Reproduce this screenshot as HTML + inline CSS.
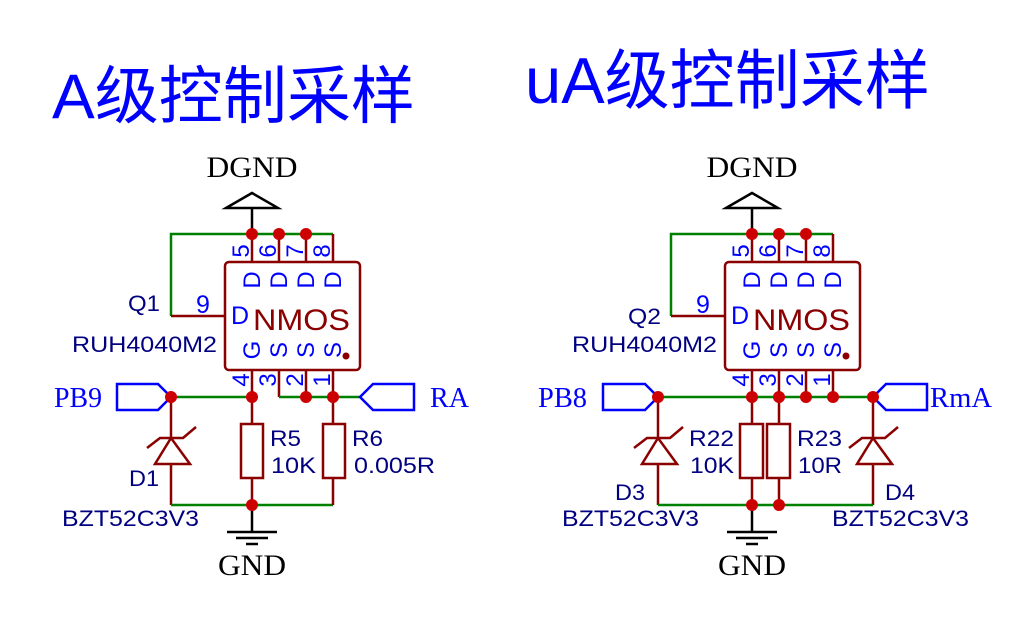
<!DOCTYPE html>
<html><head><meta charset="utf-8"><style>
html,body{margin:0;padding:0;background:#fff;}
svg{display:block;}
.t{font-family:"Liberation Sans","Noto Sans CJK SC",sans-serif;}
.s{font-family:"Liberation Serif",serif;}
</style></head><body>
<svg width="1028" height="617" viewBox="0 0 1028 617" xmlns="http://www.w3.org/2000/svg">
<text x="52" y="118" class="t" font-size="63" fill="#0000ff" textLength="363" lengthAdjust="spacingAndGlyphs">A级控制采样</text>
<text x="525" y="103" class="t" font-size="65" fill="#0000ff" textLength="405" lengthAdjust="spacingAndGlyphs">uA级控制采样</text>

<defs>
<g id="circ">
  <text x="252" y="177" class="s" font-size="30" text-anchor="middle" fill="#000" textLength="91" lengthAdjust="spacingAndGlyphs">DGND</text>
  <polygon points="226,208 252,193 278,208" fill="none" stroke="#000" stroke-width="2.5"/>
  <line x1="252" y1="208" x2="252" y2="234" stroke="#000" stroke-width="2.5"/>
  <polyline points="333,234 171,234 171,316" fill="none" stroke="#008000" stroke-width="2.5"/>
  <line x1="171" y1="316" x2="225" y2="316" stroke="#8b0000" stroke-width="2.5"/>
  <g stroke="#8b0000" stroke-width="2.5">
    <line x1="252" y1="234" x2="252" y2="262"/><line x1="279" y1="234" x2="279" y2="262"/>
    <line x1="306" y1="234" x2="306" y2="262"/><line x1="333" y1="234" x2="333" y2="262"/>
    <line x1="252" y1="370" x2="252" y2="397"/><line x1="279" y1="370" x2="279" y2="397"/>
    <line x1="306" y1="370" x2="306" y2="397"/><line x1="333" y1="370" x2="333" y2="397"/>
  </g>
  <rect x="225" y="262" width="135" height="108" rx="4" fill="none" stroke="#8b0000" stroke-width="2.5"/>
  <g class="t" font-size="24" fill="#0000ff" text-anchor="middle">
    <text transform="translate(249,251) rotate(-90)">5</text>
    <text transform="translate(276,251) rotate(-90)">6</text>
    <text transform="translate(303,251) rotate(-90)">7</text>
    <text transform="translate(330,251) rotate(-90)">8</text>
    <text transform="translate(260,280) rotate(-90)">D</text>
    <text transform="translate(287,280) rotate(-90)">D</text>
    <text transform="translate(314,280) rotate(-90)">D</text>
    <text transform="translate(341,280) rotate(-90)">D</text>
    <text transform="translate(260,350) rotate(-90)">G</text>
    <text transform="translate(287,350) rotate(-90)">S</text>
    <text transform="translate(314,350) rotate(-90)">S</text>
    <text transform="translate(341,350) rotate(-90)">S</text>
    <text transform="translate(249,380) rotate(-90)">4</text>
    <text transform="translate(276,380) rotate(-90)">3</text>
    <text transform="translate(303,380) rotate(-90)">2</text>
    <text transform="translate(330,380) rotate(-90)">1</text>
  </g>
  <text x="231" y="324" class="t" font-size="25" fill="#0000ff">D</text>
  <text x="196" y="313" class="t" font-size="25" fill="#0000ff">9</text>
  <text x="253" y="330" class="t" font-size="30" fill="#8b0000" textLength="97" lengthAdjust="spacingAndGlyphs">NMOS</text>
  <circle cx="346" cy="356" r="3.5" fill="#8b0000"/>
  <line x1="252" y1="397" x2="252" y2="505" stroke="#8b0000" stroke-width="2.5"/>
  <line x1="252" y1="505" x2="252" y2="532" stroke="#000" stroke-width="2.5"/>
  <g stroke="#000" stroke-width="2.5">
    <line x1="227" y1="532" x2="277" y2="532"/><line x1="236" y1="538" x2="268" y2="538"/><line x1="246" y1="544" x2="258" y2="544"/>
  </g>
  <text x="252" y="575" class="s" font-size="30" text-anchor="middle" fill="#000" textLength="68" lengthAdjust="spacingAndGlyphs">GND</text>
</g>
<g id="zen">
  <line x1="0" y1="397" x2="0" y2="438" stroke="#8b0000" stroke-width="2.5"/>
  <line x1="0" y1="464" x2="0" y2="505" stroke="#8b0000" stroke-width="2.5"/>
  <polygon points="0,438 -16,464 19,464" fill="none" stroke="#8b0000" stroke-width="2.5"/>
  <polyline points="-24,448 -11,438 12,438 25,427" fill="none" stroke="#8b0000" stroke-width="2.5"/>
</g>
</defs>

<use href="#circ"/>
<use href="#circ" x="500"/>

<!-- Left -->
<g>
  <use href="#zen" x="171"/>
  <polygon points="117,384 158,384 171,397 158,410 117,410" fill="none" stroke="#0000ff" stroke-width="2.5"/>
  <line x1="171" y1="397" x2="252" y2="397" stroke="#008000" stroke-width="2.5"/>
  <line x1="171" y1="505" x2="333" y2="505" stroke="#008000" stroke-width="2.5"/>
  <line x1="279" y1="397" x2="360" y2="397" stroke="#008000" stroke-width="2.5"/>
  <polygon points="360,397 373,384 414,384 414,410 373,410" fill="none" stroke="#0000ff" stroke-width="2.5"/>
  <line x1="333" y1="397" x2="333" y2="505" stroke="#8b0000" stroke-width="2.5"/>
  <rect x="241" y="424" width="22" height="54" fill="#fff" stroke="#8b0000" stroke-width="2.5"/>
  <rect x="323" y="424" width="22" height="54" fill="#fff" stroke="#8b0000" stroke-width="2.5"/>
  <g fill="#cc0000">
    <circle cx="252" cy="234" r="6"/><circle cx="279" cy="234" r="6"/><circle cx="306" cy="234" r="6"/>
    <circle cx="171" cy="397" r="6"/><circle cx="252" cy="397" r="6"/><circle cx="306" cy="397" r="6"/><circle cx="333" cy="397" r="6"/>
    <circle cx="252" cy="505" r="6"/>
  </g>
  <g class="t" font-size="22" fill="#000080">
    <text x="128" y="311" textLength="32" lengthAdjust="spacingAndGlyphs">Q1</text>
    <text x="72" y="352" textLength="145" lengthAdjust="spacingAndGlyphs">RUH4040M2</text>
    <text x="129" y="486" textLength="30" lengthAdjust="spacingAndGlyphs">D1</text>
    <text x="62" y="526" textLength="137" lengthAdjust="spacingAndGlyphs">BZT52C3V3</text>
    <text x="270" y="446" textLength="31" lengthAdjust="spacingAndGlyphs">R5</text>
    <text x="271" y="473" textLength="45" lengthAdjust="spacingAndGlyphs">10K</text>
    <text x="352" y="446" textLength="31" lengthAdjust="spacingAndGlyphs">R6</text>
    <text x="354" y="473" textLength="81" lengthAdjust="spacingAndGlyphs">0.005R</text>
  </g>
  <text x="54" y="407" class="s" font-size="28" fill="#0000ff" textLength="48" lengthAdjust="spacingAndGlyphs">PB9</text>
  <text x="430" y="407" class="s" font-size="28" fill="#0000ff" textLength="39" lengthAdjust="spacingAndGlyphs">RA</text>
</g>

<!-- Right -->
<g>
  <use href="#zen" x="658"/>
  <use href="#zen" x="873"/>
  <polygon points="603,384 645,384 658,397 645,410 603,410" fill="none" stroke="#0000ff" stroke-width="2.5"/>
  <line x1="658" y1="397" x2="873" y2="397" stroke="#008000" stroke-width="2.5"/>
  <line x1="658" y1="505" x2="873" y2="505" stroke="#008000" stroke-width="2.5"/>
  <polygon points="873,397 886,384 927,384 927,410 886,410" fill="none" stroke="#0000ff" stroke-width="2.5"/>
  <line x1="779" y1="397" x2="779" y2="505" stroke="#8b0000" stroke-width="2.5"/>
  <rect x="740" y="424" width="23" height="54" fill="#fff" stroke="#8b0000" stroke-width="2.5"/>
  <rect x="767" y="424" width="23" height="54" fill="#fff" stroke="#8b0000" stroke-width="2.5"/>
  <g fill="#cc0000">
    <circle cx="752" cy="234" r="6"/><circle cx="779" cy="234" r="6"/><circle cx="806" cy="234" r="6"/>
    <circle cx="658" cy="397" r="6"/><circle cx="752" cy="397" r="6"/><circle cx="779" cy="397" r="6"/><circle cx="806" cy="397" r="6"/><circle cx="833" cy="397" r="6"/><circle cx="873" cy="397" r="6"/>
    <circle cx="752" cy="505" r="6"/><circle cx="779" cy="505" r="6"/>
  </g>
  <g class="t" font-size="22" fill="#000080">
    <text x="628" y="324" textLength="33" lengthAdjust="spacingAndGlyphs">Q2</text>
    <text x="572" y="352" textLength="145" lengthAdjust="spacingAndGlyphs">RUH4040M2</text>
    <text x="615" y="500" textLength="30" lengthAdjust="spacingAndGlyphs">D3</text>
    <text x="562" y="526" textLength="137" lengthAdjust="spacingAndGlyphs">BZT52C3V3</text>
    <text x="885" y="500" textLength="30" lengthAdjust="spacingAndGlyphs">D4</text>
    <text x="832" y="526" textLength="137" lengthAdjust="spacingAndGlyphs">BZT52C3V3</text>
    <text x="689" y="446" textLength="45" lengthAdjust="spacingAndGlyphs">R22</text>
    <text x="690" y="473" textLength="44" lengthAdjust="spacingAndGlyphs">10K</text>
    <text x="797" y="446" textLength="45" lengthAdjust="spacingAndGlyphs">R23</text>
    <text x="798" y="473" textLength="44" lengthAdjust="spacingAndGlyphs">10R</text>
  </g>
  <text x="538" y="407" class="s" font-size="28" fill="#0000ff" textLength="49" lengthAdjust="spacingAndGlyphs">PB8</text>
  <text x="930" y="407" class="s" font-size="28" fill="#0000ff" textLength="62" lengthAdjust="spacingAndGlyphs">RmA</text>
</g>
</svg>
</body></html>
